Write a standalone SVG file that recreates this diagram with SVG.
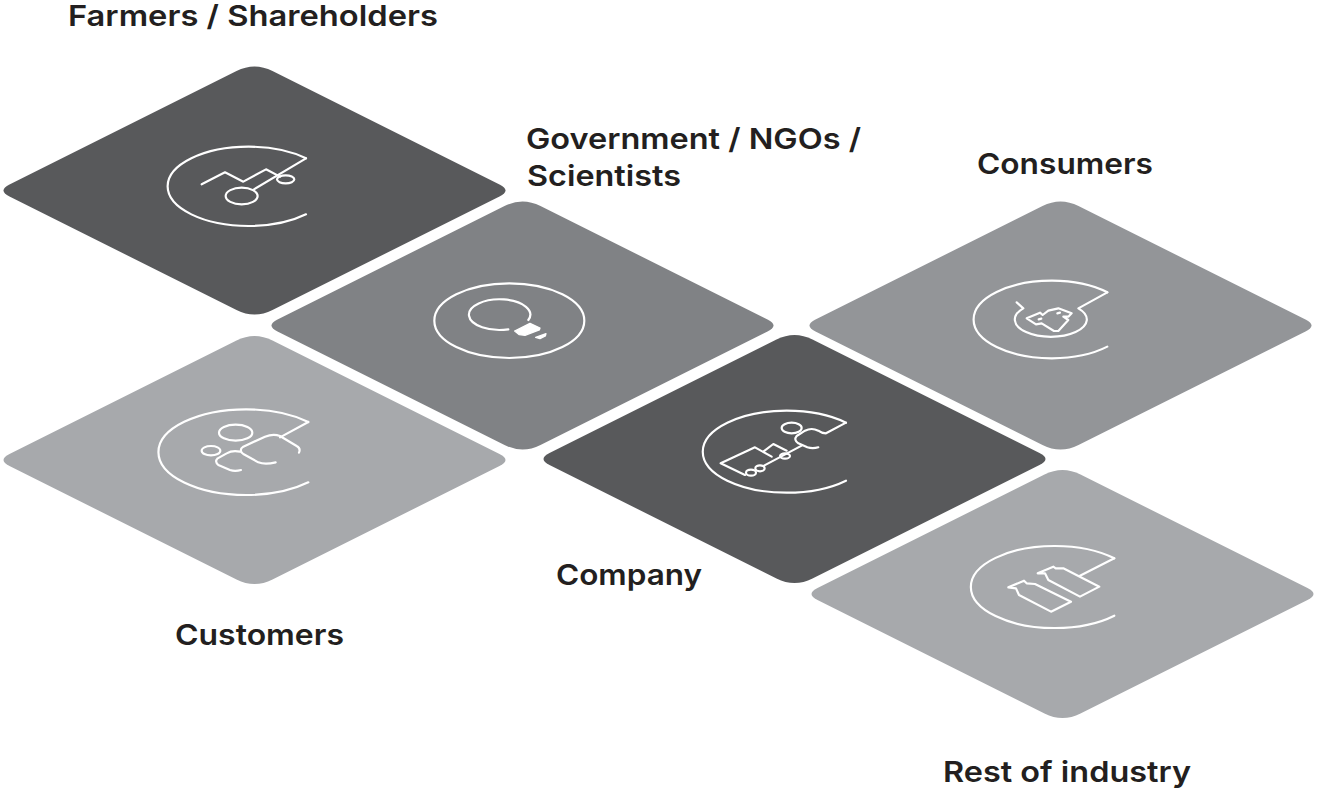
<svg xmlns="http://www.w3.org/2000/svg" width="1317" height="789" viewBox="0 0 1317 789">
<style>
.lbl{font-family:"Inter","Liberation Sans",Arial,sans-serif;font-weight:600;font-size:29px;fill:#231f20}
.ic{fill:none;stroke:#fff;stroke-width:6.500;stroke-linecap:round;stroke-linejoin:round}
.sol{fill:#fff;stroke:#fff;stroke-width:4;stroke-linejoin:round}
.d1{fill:#58595b}.d2{fill:#808285}.d3{fill:#939598}.d4{fill:#a7a9ac}
</style>
<defs>
<path id="tile" d="M-18 -119.500 Q0 -128.500 18 -119.500 L245 -6 Q257 0 245 6 L18 119.500 Q0 128.500 -18 119.500 L-245 6 Q-257 0 -245 -6 Z"/>
</defs>
<rect width="1317" height="789" fill="#fff"/>
<g id="connectors"></g>
<g id="farmers">
<use href="#tile" class="d1" x="254.500" y="190.500"/>
<g transform="translate(140 120) scale(.3333)" class="ic">
<path d="M498 115 A243 119 0 1 0 498 283"/>
<path d="M498 115 L342 208"/>
<path d="M185 193 L255 157 L310 185 L378 148 L420 170"/>
<ellipse cx="437" cy="178" rx="26" ry="12"/>
<ellipse cx="305" cy="228" rx="48" ry="25"/>
</g>
<text class="lbl" x="68" y="25.500" textLength="370" lengthAdjust="spacingAndGlyphs">Farmers / Shareholders</text>
</g>
<g id="government">
<use href="#tile" class="d2" x="522.500" y="325.500"/>
<g transform="translate(420 270) scale(.3333)">
<g class="ic">
<ellipse cx="268" cy="152" rx="225" ry="112"/>
<path d="M265 178 A92 46 0 1 1 325 150"/>
</g>
<path class="sol" d="M284 183 L330 160 L360 174 L358 180 L315 196 L298 194 Z"/>
<path class="sol" d="M347 202 L378 191 L376 198 L360 206 Z"/>
</g>
<text class="lbl" x="526" y="149" textLength="335" lengthAdjust="spacingAndGlyphs">Government / NGOs /</text>
<text class="lbl" x="527" y="186" textLength="154" lengthAdjust="spacingAndGlyphs">Scientists</text>
</g>
<g id="consumers">
<use href="#tile" class="d3" x="1060.500" y="325.500"/>
<g transform="translate(960 270) scale(.3333)" class="ic">
<path d="M442 67 A234 116.500 0 1 0 442 230"/>
<path d="M442 67 L355 115 A108 52 0 1 1 190 115 L170 97"/>
<path d="M200 145 L240 128 L248 135 L265 122 L295 115 L335 130 L325 140 L310 140 L325 150 L295 183 L282 183 L245 160 L228 163 Z"/>
<path d="M236 148 L244 146 M292 130 L300 128"/>
</g>
<text class="lbl" x="977" y="174" textLength="176" lengthAdjust="spacingAndGlyphs">Consumers</text>
</g>
<g id="customers">
<use href="#tile" class="d4" x="254.500" y="460"/>
<g transform="translate(145 400) scale(.3333)" class="ic">
<path d="M490 66 A263 128.500 0 1 0 490 247"/>
<path d="M490 66 L405 112"/>
<path d="M462 158 Q468 145 455 138 L405 108 Q385 100 360 110 L295 140 Q280 150 295 162 L340 187 Q360 195 392 187"/>
<ellipse cx="272" cy="98" rx="50" ry="24"/>
<ellipse cx="198" cy="152" rx="28" ry="14"/>
<path d="M285 155 Q262 150 245 160 L218 175 Q208 185 220 195 L255 210 Q270 215 288 210"/>
</g>
<text class="lbl" x="175" y="645" textLength="169" lengthAdjust="spacingAndGlyphs">Customers</text>
</g>
<g id="company">
<use href="#tile" class="d1" x="794.500" y="459"/>
<g transform="translate(690 400) scale(.3333)" class="ic">
<path d="M468 68 A252 123 0 1 0 468 242"/>
<path d="M468 68 L408 100 Q395 100 385 92 Q365 82 345 92 L320 108 Q310 120 325 130 L352 142 Q368 147 385 142"/>
<ellipse cx="305" cy="84" rx="30" ry="16"/>
<path d="M165 225 L92 190 L195 142 L245 170"/>
<path d="M220 155 L250 132 L290 152"/>
<path d="M222 197 L335 137"/>
<ellipse cx="285" cy="168" rx="15" ry="8"/>
<ellipse cx="183" cy="218" rx="15" ry="9"/>
<ellipse cx="210" cy="205" rx="14" ry="9"/>
</g>
<text class="lbl" x="556" y="585" textLength="146" lengthAdjust="spacingAndGlyphs">Company</text>
</g>
<g id="rest-of-industry">
<use href="#tile" class="d4" x="1062.500" y="594"/>
<g transform="translate(955 535) scale(.3333)" class="ic">
<path d="M478 70 A251 123 0 1 0 478 242"/>
<path d="M478 70 L375 122"/>
<path d="M248 115 L295 95 L302 100 L325 100 L433 155 L375 185 L280 135 L270 115 Z"/>
<path d="M160 157 L207 137 L215 145 L240 147 L348 200 L288 230 L192 180 L183 160 Z"/>
</g>
<text class="lbl" x="943" y="782" textLength="248" lengthAdjust="spacingAndGlyphs">Rest of industry</text>
</g>
</svg>
